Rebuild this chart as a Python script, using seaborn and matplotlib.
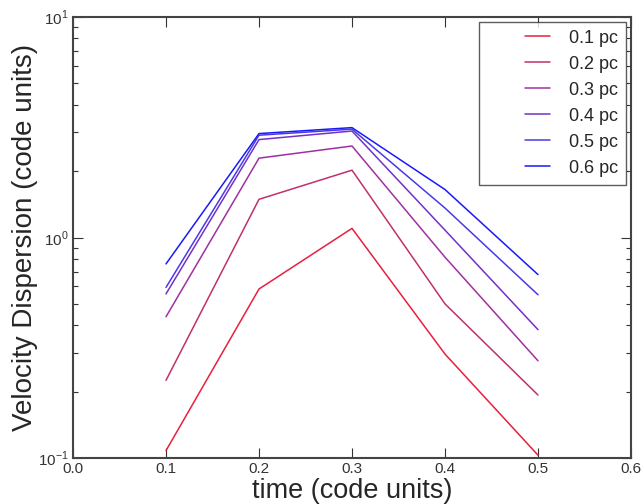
import matplotlib
matplotlib.use("Agg")
import matplotlib.pyplot as plt
from matplotlib.ticker import LogLocator, NullFormatter
from matplotlib.legend_handler import HandlerLine2D
import numpy as np
import seaborn as sns
import pandas as pd

times = [0.1, 0.2, 0.3, 0.4, 0.5]
labels = ["0.1 pc", "0.2 pc", "0.3 pc", "0.4 pc", "0.5 pc", "0.6 pc"]
v01 = [0.108, 0.584, 1.10, 0.296, 0.103]
v02 = [0.225, 1.49, 2.02, 0.50, 0.193]
v03 = [0.437, 2.29, 2.60, 0.814, 0.276]
v04 = [0.555, 2.78, 3.04, 1.08, 0.382]
v05 = [0.594, 2.91, 3.10, 1.36, 0.55]
v06 = [0.759, 2.96, 3.15, 1.65, 0.679]
series = [v01, v02, v03, v04, v05, v06]
colors = ["#e8203c", "#c0306c", "#a030a0", "#7430c8", "#4a3ae6", "#1a1af8"]

sns.set_style("white")
plt.rcParams['font.family'] = ['Liberation Sans', 'DejaVu Sans']
plt.rcParams['mathtext.fontset'] = 'custom'
plt.rcParams['mathtext.rm'] = 'Liberation Sans'

rows = []
for lab, vals in zip(labels, series):
    for t, v in zip(times, vals):
        rows.append({"time": t, "vel": v, "scale": lab})
df = pd.DataFrame(rows)
palette = dict(zip(labels, colors))


class ShortLine(HandlerLine2D):
    def get_xdata(self, legend, xdescent, ydescent, width, height, fontsize):
        x0 = -xdescent + 0.6 * width
        x1 = -xdescent + width
        xd = np.array([x0, x1])
        return xd, np.array([(x0 + x1) / 2])


fig = plt.figure(figsize=(6.44, 5.04), dpi=100)
ax = fig.add_axes([73 / 644, 1 - 458 / 504, (631 - 73) / 644, (458 - 17) / 504])
sns.lineplot(data=df, x="time", y="vel", hue="scale", palette=palette, ax=ax,
             linewidth=1.1, legend=True)
ax.set_yscale("log")
ax.set_xlim(0, 0.6)
ax.set_ylim(0.1, 10)
ax.set_xticks([0.0, 0.1, 0.2, 0.3, 0.4, 0.5, 0.6])
ax.set_xticklabels(["0.0", "0.1", "0.2", "0.3", "0.4", "0.5", "0.6"])
ax.set_yticks([0.1, 1, 10])
ax.set_yticklabels([r"$10^{-1}$", r"$10^{0}$", r"$10^{1}$"])
ax.yaxis.set_minor_locator(LogLocator(base=10, subs=range(2, 10)))
ax.yaxis.set_minor_formatter(NullFormatter())
ax.tick_params(axis="both", which="both", direction="in", top=True, right=True,
               left=True, bottom=True, labelsize=11, colors="#333333", width=0.8)
ax.tick_params(axis="both", which="major", length=7, pad=3)
ax.tick_params(axis="y", which="minor", length=3.5, left=True, right=True)
for s in ax.spines.values():
    s.set_color("#444444")
    s.set_linewidth(1.5)
ax.set_xlabel("time (code units)", fontsize=19.5, labelpad=1)
ax.set_ylabel("Velocity Dispersion (code units)", fontsize=20, labelpad=0)

handles, labs = ax.get_legend_handles_labels()
leg = ax.legend(handles, labs, loc="upper right", fontsize=13, frameon=True, fancybox=False,
                handlelength=3.5, borderpad=0.45, labelspacing=0.5, handletextpad=1.05,
                borderaxespad=0.25, handler_map={type(handles[0]): ShortLine()})
leg.get_frame().set_edgecolor("#333333")
leg.get_frame().set_linewidth(1.0)

fig.savefig("out.png", dpi=100, facecolor="white")
